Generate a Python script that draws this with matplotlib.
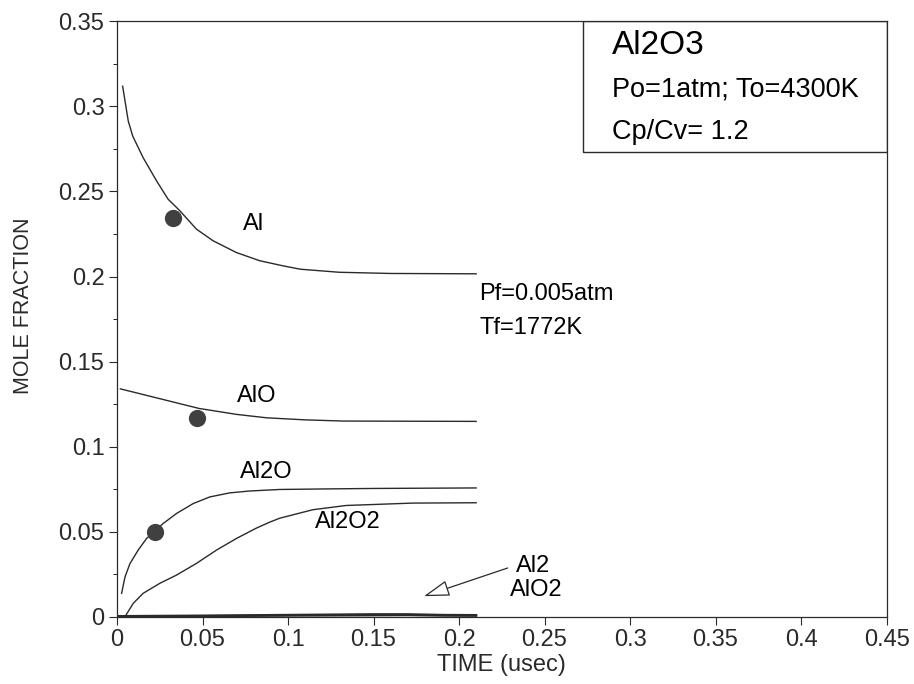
import matplotlib.pyplot as plt
import numpy as np
from matplotlib.ticker import MultipleLocator

plt.rcParams['font.family'] = ['Liberation Sans', 'DejaVu Sans']

# Mole fraction histories (time in usec)
t_al = [0.0033, 0.0066, 0.0092, 0.0153, 0.0232, 0.0299, 0.0368, 0.0465, 0.0562,
        0.0698, 0.0834, 0.097, 0.1072, 0.13, 0.16, 0.21]
al = [0.3118, 0.2913, 0.2825, 0.2698, 0.2561, 0.2454, 0.2386, 0.2278, 0.2210,
      0.2141, 0.2093, 0.2063, 0.2043, 0.2025, 0.2018, 0.2016]

t_alo = [0.002, 0.02, 0.048, 0.07, 0.0875, 0.11, 0.132, 0.17, 0.21]
alo = [0.134, 0.1295, 0.1225, 0.119, 0.117, 0.1158, 0.1151, 0.115, 0.1149]

t_al2o = [0.0027, 0.0047, 0.0076, 0.0124, 0.0173, 0.027, 0.0348, 0.0445, 0.0542,
          0.0659, 0.0776, 0.0951, 0.12, 0.15, 0.21]
al2o = [0.0139, 0.0236, 0.0314, 0.0393, 0.0461, 0.0549, 0.0608, 0.0666, 0.0705,
        0.0729, 0.0740, 0.0749, 0.0752, 0.0755, 0.0758]

t_al2o2 = [0.0047, 0.0095, 0.0153, 0.0251, 0.0348, 0.0465, 0.0582, 0.0698, 0.0815,
           0.0893, 0.0951, 0.1145, 0.134, 0.1729, 0.21]
al2o2 = [0.0002, 0.0080, 0.0139, 0.0198, 0.0246, 0.0315, 0.0393, 0.0461, 0.0522,
         0.0557, 0.0580, 0.0630, 0.0655, 0.0669, 0.0671]

t_small = [0.0, 0.05, 0.1, 0.15, 0.17, 0.19, 0.21]
al2 = [0.0005, 0.0008, 0.0012, 0.0016, 0.0016, 0.0012, 0.0011]
alo2 = [0.0003, 0.0005, 0.0008, 0.0010, 0.0011, 0.0008, 0.0007]

# dark smudges on the scan
blob_t = [0.033, 0.047, 0.022]
blob_y = [0.2345, 0.117, 0.050]

fig = plt.figure(figsize=(9.14, 6.84), dpi=100)
ax = fig.add_axes([0.128, 0.098, 0.842, 0.871])

lc = '#2a2a2a'
for t, y in [(t_al, al), (t_alo, alo), (t_al2o, al2o), (t_al2o2, al2o2)]:
    ax.plot(t, y, color=lc, lw=1.0)
ax.plot(t_small, al2, color=lc, lw=1.6)
ax.plot(t_small, alo2, color=lc, lw=1.6)
ax.scatter(blob_t, blob_y, s=130, marker='o', color='#404040', zorder=3)

fs = 17
ax.text(0.0735, 0.231, 'Al', fontsize=fs, va='center')
ax.text(0.070, 0.130, 'AlO', fontsize=fs, va='center')
ax.text(0.072, 0.085, 'Al2O', fontsize=fs, va='center')
ax.text(0.116, 0.056, 'Al2O2', fontsize=fs, va='center')
ax.text(0.233, 0.030, 'Al2', fontsize=fs, va='center')
ax.text(0.230, 0.016, 'AlO2', fontsize=fs, va='center')
ax.text(0.212, 0.190, 'Pf=0.005atm', fontsize=fs, va='center')
ax.text(0.212, 0.170, 'Tf=1772K', fontsize=fs, va='center')

ax.annotate('', xy=(0.178, 0.0117), xytext=(0.230, 0.0293),
            arrowprops=dict(arrowstyle='-|>,head_length=1.6,head_width=0.5',
                            fc='white', ec=lc, lw=0.9))

# info box, upper right
box = plt.Rectangle((0.606, 0.780), 0.394, 0.220, transform=ax.transAxes,
                    fill=False, ec=lc, lw=1.0)
ax.add_patch(box)
ax.text(0.643, 0.960, 'Al2O3', transform=ax.transAxes, fontsize=24, va='center')
ax.text(0.643, 0.886, 'Po=1atm; To=4300K', transform=ax.transAxes, fontsize=19.5, va='center')
ax.text(0.643, 0.814, 'Cp/Cv= 1.2', transform=ax.transAxes, fontsize=19.5, va='center')

ax.set_xlim(0, 0.45)
ax.set_ylim(0, 0.35)
ax.set_xticks(np.arange(0, 0.451, 0.05))
ax.set_xticklabels(['0', '0.05', '0.1', '0.15', '0.2', '0.25', '0.3', '0.35', '0.4', '0.45'])
ax.set_yticks(np.arange(0, 0.351, 0.05))
ax.set_yticklabels(['0', '0.05', '0.1', '0.15', '0.2', '0.25', '0.3', '0.35'])
ax.yaxis.set_minor_locator(MultipleLocator(0.025))
ax.tick_params(axis='both', labelsize=fs, direction='out', length=6, width=0.8,
               colors=lc, pad=3)
ax.tick_params(axis='y', which='minor', length=3, width=0.6)
for sp in ax.spines.values():
    sp.set_color(lc)
    sp.set_linewidth(0.9)

ax.set_xlabel('TIME (usec)', fontsize=fs, color=lc, labelpad=2)
ax.set_ylabel('MOLE FRACTION', fontsize=15.5, color=lc)
ax.yaxis.set_label_coords(-0.108, 0.522)

fig.savefig('out.png', dpi=100, facecolor='white')
